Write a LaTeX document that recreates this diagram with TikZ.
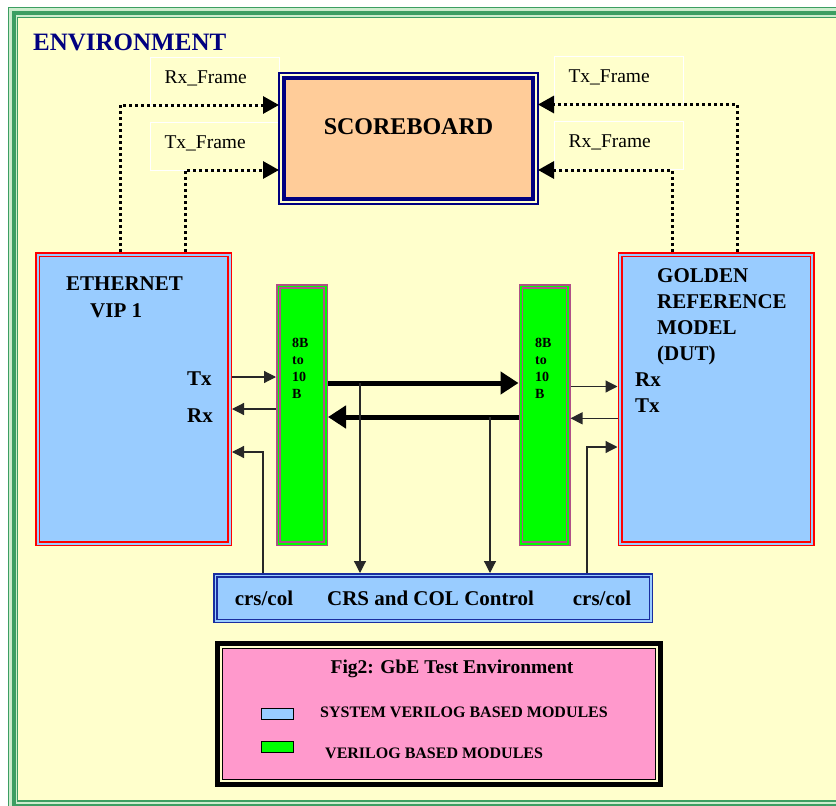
\documentclass[tikz,border=0pt]{standalone}
\usepackage{fontspec}
\setmainfont{Liberation Serif}
\usetikzlibrary{arrows.meta,positioning}

\definecolor{envcream}{HTML}{FFFFCC}
\definecolor{framegrn}{RGB}{60,158,98}
\definecolor{framelite}{RGB}{205,236,205}
\definecolor{vipblue}{HTML}{99CCFF}
\definecolor{encgreen}{HTML}{00FF00}
\definecolor{encedge}{RGB}{176,80,136}
\definecolor{sbpeach}{HTML}{FFCC99}
\definecolor{sbnavy}{HTML}{000080}
\definecolor{crsedge}{RGB}{25,45,160}
\definecolor{legpink}{HTML}{FF99CC}
\definecolor{wire}{RGB}{40,40,40}

\tikzset{
  vipbox/.style={draw=red, line width=1.5pt, double=vipblue, double distance=2pt,
    fill=vipblue, outer sep=2.5pt, minimum width=192pt, minimum height=289pt},
  encbox/.style={draw=encedge, line width=1.5pt, double=encgreen, double distance=1.7pt,
    fill=encgreen, outer sep=2.35pt, minimum width=47.3pt, minimum height=257.3pt},
  sbbox/.style={draw=sbnavy, line width=4pt, fill=sbpeach, outer sep=5pt,
    minimum width=249pt, minimum height=121pt, font=\fontsize{24}{28}\selectfont\bfseries,
    text height=17pt, text depth=26pt},
  crsbox/.style={draw=crsedge, line width=1.5pt, double=vipblue, double distance=1.5pt,
    fill=vipblue, outer sep=2.25pt, minimum width=435.5pt, minimum height=45.5pt,
    font=\fontsize{21}{25}\selectfont\bfseries, text height=14pt, text depth=0pt},
  legbox/.style={draw=black, line width=1.3pt, fill=legpink, outer sep=5.15pt,
    minimum width=433pt, minimum height=131pt},
  tagbox/.style={draw=white, line width=1pt, anchor=north west,
    font=\fontsize{19.5}{23}\selectfont, text width=101pt, align=left,
    inner xsep=14pt, inner ysep=13pt, text height=13pt, text depth=9pt},
  % multi-line texts: base west sits on the last line
  blktext/.style={font=\fontsize{21}{27}\selectfont\bfseries, anchor=base west, align=left},
  enctext/.style={font=\fontsize{14}{17}\selectfont\bfseries, anchor=base west, align=left},
  legtext/.style={font=\fontsize{16}{19}\selectfont\bfseries, anchor=base west},
  swatch/.style={draw=black, line width=1pt, minimum width=32pt, minimum height=11pt},
  wirearr/.style={draw=wire, line width=1.2pt, -{Triangle[length=12pt,width=12pt]}},
  busarr/.style={line width=5pt, -{Triangle[length=18pt,width=22pt]}},
  frameflow/.style={line width=3pt, dash pattern=on 3pt off 3pt,
    -{Triangle[length=16pt,width=17pt]}},
}

\begin{document}
\begin{tikzpicture}[x=1pt,y=-1pt,every node/.style={inner sep=0pt}]
  \useasboundingbox (0,0) rectangle (836,806);
  \clip (0,0) rectangle (836,806);
  \fill[white] (0,0) rectangle (836,806);

  % environment frame
  \fill[framelite] (8,7) rectangle (860,830);
  \fill[envcream] (18,18) rectangle (845,800.5);
  \draw[framegrn,line width=1pt] (8.5,7.5) rectangle (855,825);
  \draw[framegrn,line width=4pt] (14,13) rectangle (850,806);
  \draw[framegrn,line width=1.5pt] (17.5,17.5) rectangle (845,801);
  \node[font=\fontsize{25}{30}\selectfont\bfseries, text=sbnavy, anchor=base west]
    (envtitle) at (33,50) {ENVIRONMENT};

  % frame labels
  \node[tagbox] (rxtagL) at (150,57) {Rx\_Frame};
  \node[tagbox] (txtagL) at (150,122) {Tx\_Frame};
  \node[tagbox] (txtagR) at (554,56) {Tx\_Frame};
  \node[tagbox] (rxtagR) at (554,121) {Rx\_Frame};

  % scoreboard
  \node[sbbox] (sb) at (408.5,138.5) {SCOREBOARD};
  \draw[sbnavy,line width=1.5pt] (sb.north west) rectangle (sb.south east);

  % main blocks
  \node[vipbox] (eth) at (133.5,399) {};
  \node[vipbox] (grm) at (716,399) {};
  \node[encbox] (enc1) at (302,415) {};
  \node[encbox] (enc2) at (544.5,415) {};
  \node[crsbox] (crs) at (433,598)
    {crs/col\hspace{34pt}CRS and COL Control\hspace{39pt}crs/col};

  \node[blktext] (ethname) at (66,317) {ETHERNET\\\hspace*{24pt}VIP 1};
  \node[blktext] (ethtx) at (187,385) {Tx};
  \node[blktext] (ethrx) at (187,422) {Rx};
  \node[blktext, font=\fontsize{21}{26}\selectfont\bfseries]
    (grmname) at (657,360) {GOLDEN\\REFERENCE\\MODEL\\(DUT)};
  \node[blktext] (grmrx) at (635,386) {Rx};
  \node[blktext] (grmtx) at (635,412) {Tx};
  \node[enctext] (enc1txt) at (292,398) {8B\\to\\10\\B};
  \node[enctext] (enc2txt) at (535,398) {8B\\to\\10\\B};

  % frames to the scoreboard
  \draw[frameflow] ([xshift=-13.5pt]eth.north) |- ([yshift=33.5pt]sb.west);
  \draw[frameflow] ([xshift=51.5pt]eth.north) |- ([yshift=-31.5pt]sb.west);
  \draw[frameflow] ([xshift=21pt]grm.north) |- ([yshift=34pt]sb.east);
  \draw[frameflow] ([xshift=-44pt]grm.north) |- ([yshift=-31.5pt]sb.east);

  % tx/rx wires
  \draw[wirearr] ([yshift=22pt]eth.east) -- ([yshift=38pt]enc1.west);
  \draw[wirearr] ([yshift=6pt]enc1.west) -- ([yshift=-10pt]eth.east);
  \draw[wirearr] ([yshift=28.5pt]enc2.east) -- ([yshift=12.5pt]grm.west);
  \draw[wirearr] ([yshift=-19.3pt]grm.west) -- ([yshift=-3.3pt]enc2.east);
  \draw[busarr] ([yshift=32pt]enc1.east) -- ([yshift=32pt]enc2.west);
  \draw[busarr] ([yshift=-2pt]enc2.west) -- ([yshift=-2pt]enc1.east);

  % crs/col control
  \draw[wirearr] ([xshift=32pt,yshift=32pt]enc1.east) -- ([xshift=-73pt]crs.north);
  \draw[wirearr] ([xshift=-28.5pt,yshift=-2pt]enc2.west) -- ([xshift=57pt]crs.north);
  \draw[wirearr] ([xshift=-170pt]crs.north) |- ([yshift=-53pt]eth.east);
  \draw[wirearr] ([xshift=154pt]crs.north) |- ([yshift=-48pt]grm.west);

  % legend
  \node[legbox] (legend) at (439,714) {};
  \draw[black,line width=4.7pt] (legend.north west) rectangle (legend.south east);
  \node[font=\fontsize{19.5}{23}\selectfont\bfseries, anchor=base]
    (legcap) at (452,673) {Fig2: GbE Test Environment};
  \node[swatch, fill=vipblue] (swsv) at (277,713.5) {};
  \node[swatch, fill=encgreen] (swv) at (277,746.5) {};
  \node[legtext] (legsv) at (320,717) {SYSTEM VERILOG BASED MODULES};
  \node[legtext] (legv) at (325,758) {VERILOG BASED MODULES};
\end{tikzpicture}
\end{document}
